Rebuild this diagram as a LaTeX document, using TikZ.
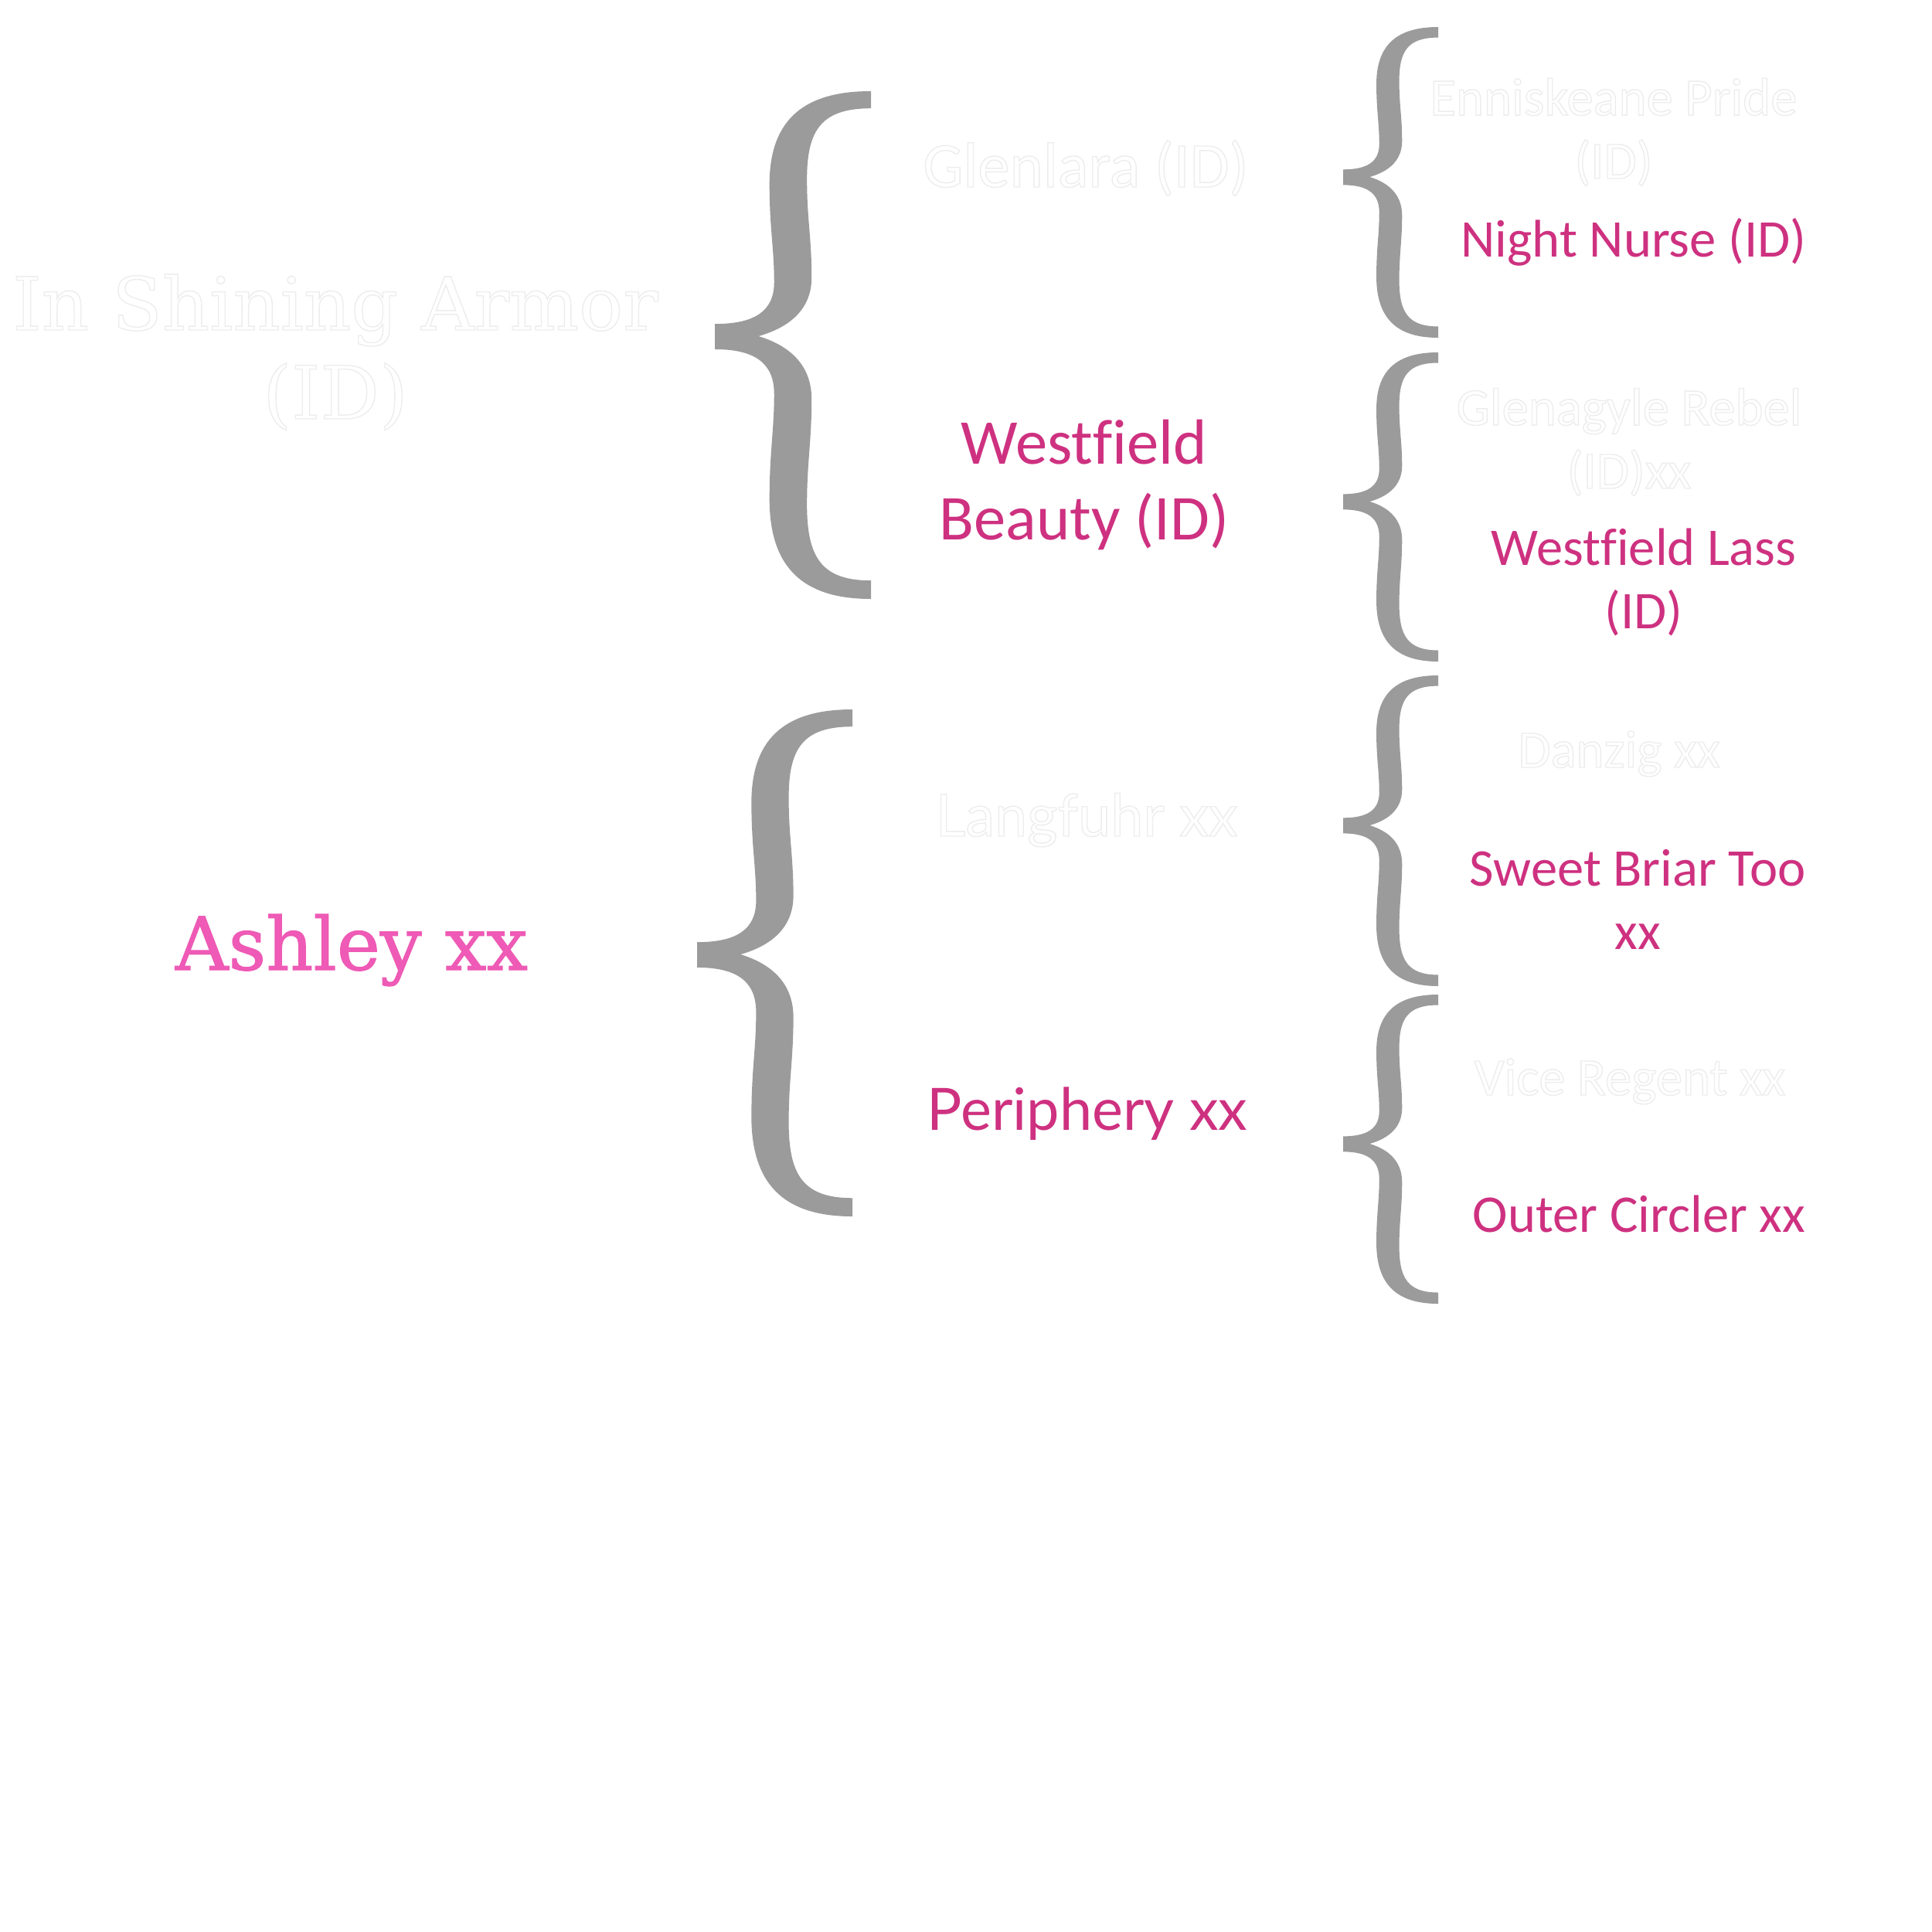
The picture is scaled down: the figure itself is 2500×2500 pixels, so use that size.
\documentclass[tikz,border=0pt]{standalone}
\usepackage{fontspec}
\setmainfont[Ligatures=NoCommon]{Carlito}
\newfontfamily\slabfont{DejaVu Serif}
\newfontfamily\slabboldfont[FakeBold=1.2]{DejaVu Serif}
\newfontfamily\latofont[Ligatures=NoCommon]{Lato}
\definecolor{pinkdark}{RGB}{206,49,128}
\definecolor{pinklight}{RGB}{238,90,181}
\definecolor{bracegray}{RGB}{155,155,155}
\newcommand\ghosttext[1]{\special{pdf:literal direct 0.93 G 0.4 w 2 Tr}#1\special{pdf:literal direct 0 Tr}}
\tikzset{
  bracehalf/.pic={
    \fill[bracegray] (1,1) .. controls (0.6,1) and (0.35,0.9) .. (0.35,0.62)
      .. controls (0.35,0.44) and (0.38,0.36) .. (0.38,0.22)
      .. controls (0.38,0.1) and (0.25,0.05) .. (0,0.05)
      -- (0,-0.01) -- (0.28,-0.01) -- (0.28,0)
      .. controls (0.5,0.04) and (0.62,0.12) .. (0.62,0.24)
      .. controls (0.62,0.4) and (0.59,0.48) .. (0.59,0.64)
      .. controls (0.59,0.84) and (0.68,0.93) .. (1,0.93) -- cycle;
  },
  slab/.style={font=\slabfont\fontsize{27}{32.7}\selectfont},
  slabbold/.style={font=\slabboldfont\fontsize{27}{32.7}\selectfont},
  mid/.style={font=\fontsize{23.5}{27.6}\selectfont},
  midlato/.style={font=\latofont\fontsize{21.5}{26}\selectfont},
  small/.style={font=\fontsize{19.5}{23.3}\selectfont},
  sire/.style={text=white},
  dam/.style={text=pinkdark},
}
% #1 tip x, #2 tip y, #3 width, #4 upper height, #5 lower height
\newcommand\pbrace[5]{%
  \pic[shift={(#1,#2)}, xscale=#3, yscale=-#4] {bracehalf};
  \pic[shift={(#1,#2)}, xscale=#3, yscale=#5] {bracehalf};
}
\begin{document}
\begin{tikzpicture}[x=0.01cm,y=-0.01cm,
  every node/.style={inner sep=0pt, outer sep=0pt, anchor=base, align=center}]
\useasboundingbox (0,0) rectangle (2500,2500);
\fill[white] (0,0) rectangle (2500,2500);

% braces
\pbrace{925}{435}{202}{317}{340}
\pbrace{902}{1235}{201}{317}{339}
\pbrace{1738}{229}{123}{194}{208}
\pbrace{1738}{649}{123}{193}{207}
\pbrace{1738}{1068}{123}{194}{208}
\pbrace{1738}{1480}{123}{193}{207}

% generation 1 (base anchor = last line)
\node[slab, sire] (isa) at (434,542) {\ghosttext{In Shining Armor}\\\ghosttext{(ID)}};
\node[slabbold, text=pinklight] (ashley) at (455,1255) {Ashley xx};

% generation 2
\node[mid, sire] (glenlara) at (1405,242) {\ghosttext{Glenlara (ID)}};
\node[mid, dam] (wbeauty) at (1403,698) {Westfield\\Beauty (ID)};
\node[midlato, sire] (langfuhr) at (1406,1082) {\ghosttext{Langfuhr xx}};
\node[midlato, dam] (periphery) at (1407,1462) {Periphery xx};

% generation 3
\node[small, sire] (enniskeane) at (2088,231) {\ghosttext{Enniskeane Pride}\\\ghosttext{(ID)}};
\node[small, dam] (nightnurse) at (2114,332) {Night Nurse (ID)};
\node[small, sire] (glenagyle) at (2108,632) {\ghosttext{Glenagyle Rebel}\\\ghosttext{(ID)xx}};
\node[small, dam] (wlass) at (2127,813) {Westfield Lass\\(ID)};
\node[small, sire] (danzig) at (2095,993) {\ghosttext{Danzig xx}};
\node[small, dam] (sweetbriar) at (2119,1228) {Sweet Briar Too\\xx};
\node[small, sire] (viceregent) at (2109,1417) {\ghosttext{Vice Regent xx}};
\node[small, dam] (outercircler) at (2121,1594) {Outer Circler xx};
\end{tikzpicture}
\end{document}
